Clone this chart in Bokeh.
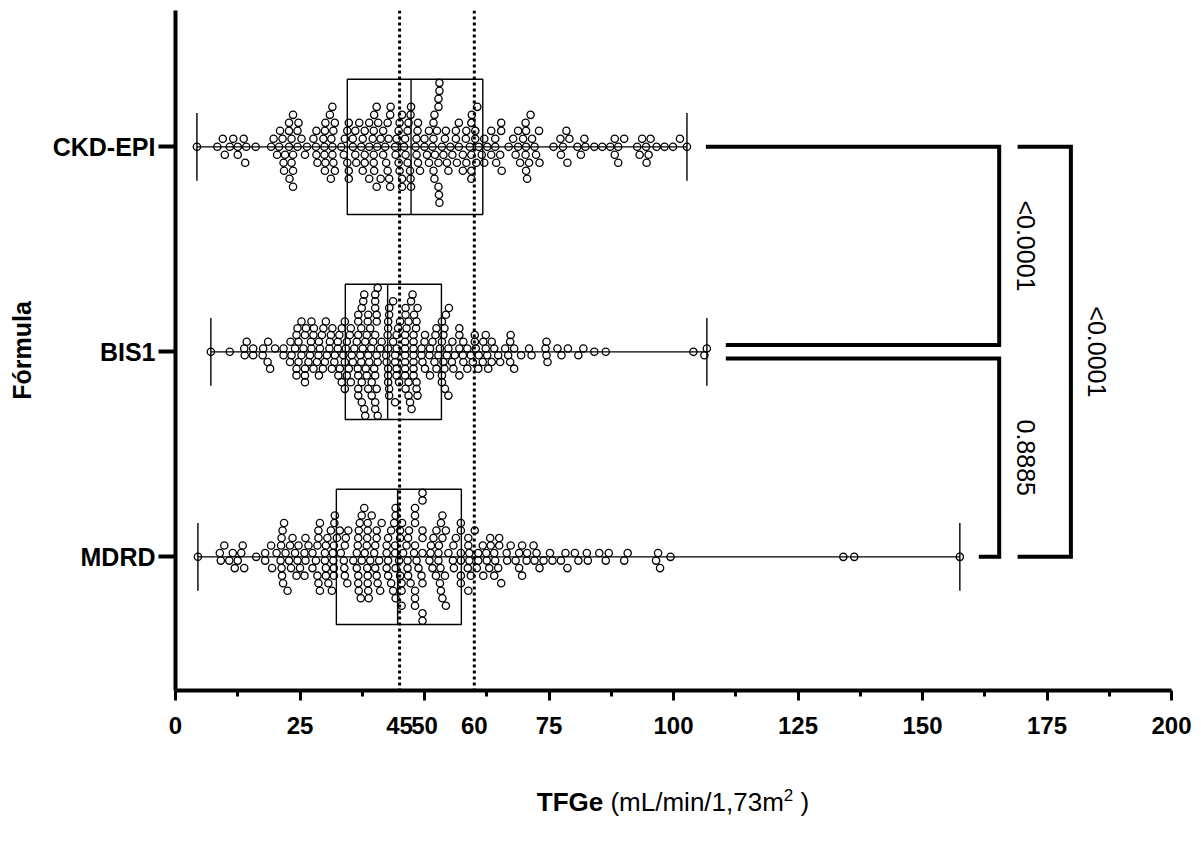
import numpy as np
from bokeh.plotting import figure
from bokeh.models import Range1d, FixedTicker, Span, LinearAxis, Div
from bokeh.layouts import column
from bokeh.embed import file_html
from bokeh.resources import INLINE
from bokeh.core.properties import value

# ---------------- data ----------------
formulas = ["CKD-EPI", "BIS1", "MDRD"]

ckd_epi = [
    52.0, 40.7, 52.8,
    23.3, 24.5, 38.9, 40.4, 45.5, 47.3, 52.0, 53.5,
    22.8, 31.2, 39.9, 43.2, 44.8, 47.3, 53.0, 59.4, 70.4,
    21.7, 23.6, 30.0, 31.3, 34.5, 36.1, 37.6, 41.7, 43.1, 45.0, 46.6, 48.2, 50.0, 51.6, 52.8, 58.4, 60.2, 62.0, 65.4, 70.4,
    13.7, 20.4, 22.0, 23.6, 25.3, 28.2, 29.9, 32.0, 34.5, 36.1, 37.6, 39.6, 41.2, 42.6, 45.5, 47.1, 48.7, 50.9, 53.0, 54.8,
    56.3, 59.4, 60.9, 62.6, 64.2, 65.4, 67.8, 69.2, 70.6, 72.4, 78.7, 94.6,
    9.5, 12.5, 14.0, 19.2, 22.8, 26.0, 27.7, 29.9, 31.5, 33.3, 34.8, 36.3, 38.0, 39.8, 41.7, 43.1, 44.8, 46.8, 48.6, 51.8,
    55.2, 56.9, 58.3, 60.4, 63.4, 68.8, 70.3, 71.6, 73.1, 77.3, 81.4, 88.2, 90.1, 93.7,
    4.3, 8.4, 10.9, 12.5, 16.1, 21.0, 22.9, 26.4, 28.3, 30.1, 31.7, 34.8, 36.9, 42.8, 44.4, 45.9, 48.7, 50.5, 53.0, 56.9,
    58.4, 59.5, 61.5, 63.4, 65.2, 66.9, 70.3, 75.9, 77.4, 79.1, 80.7, 82.3, 84.1, 85.7, 87.3, 88.9, 92.7, 95.4, 98.2, 99.9,
    101.3, 102.7,
    9.9, 11.6, 19.7, 21.5, 23.6, 28.3, 29.7, 31.5, 33.8, 35.6, 38.0, 42.3, 44.1, 46.1, 49.1, 50.9, 52.5, 54.5, 56.3, 57.7,
    59.4, 64.2, 65.5, 68.8, 70.4, 72.1, 77.8, 82.1, 88.2, 93.2, 95.0,
    14.2, 20.8, 22.8, 24.5, 28.5, 30.0, 31.5, 34.0, 35.6, 37.3, 38.9, 40.5, 42.1, 45.0, 47.2, 50.0, 51.8, 55.6, 57.7, 60.2,
    62.0, 64.4, 68.3, 69.8, 71.3, 73.0, 78.5, 88.9, 94.5, 96.6,
    21.8, 23.6, 30.1, 31.7, 34.8, 38.0, 39.8, 41.2, 42.6, 44.2, 46.2, 48.4, 51.8, 56.5, 59.4,
    31.0, 39.8, 42.9, 46.6, 48.4, 52.1, 53.8, 59.1, 60.6, 71.0,
    23.3, 24.7, 32.0, 38.9, 40.4, 45.5, 47.2, 52.8, 54.1,
    39.9, 52.8, 54.3, 52.9,
]

bis1 = [
    40.4, 37.9, 40.6, 48.4, 37.3, 39.9, 47.1,
    36.6, 38.4, 39.7, 42.9, 46.8, 48.4,
    37.4, 39.3, 41.4, 43.7, 46.1, 47.8, 49.4, 53.8,
    25.3, 34.0, 36.7, 39.1, 40.6, 42.9, 44.7, 46.4, 48.6, 54.1, 55.6,
    24.7, 26.0, 27.7, 29.7, 31.4, 32.9, 34.4, 35.4, 37.6, 39.4, 41.1, 42.7, 44.4, 46.1, 47.9, 52.8, 54.5,
    24.5, 26.2, 27.8, 29.6, 31.2, 33.0, 34.2, 36.7, 38.2, 40.1, 42.7, 44.1, 46.1, 47.4, 51.1, 52.4, 53.8,
    14.3, 18.6, 24.0, 25.7, 27.3, 29.0, 30.9, 32.6, 34.0, 35.2, 37.3, 38.7, 40.6, 42.7, 44.4, 46.1, 47.8, 50.1, 51.6, 53.1, 54.3,
    13.8, 15.6, 17.5, 19.0, 21.7, 23.0, 24.3, 26.0, 27.3, 28.8, 30.2, 31.9, 33.4, 34.8, 36.7, 38.1, 39.4, 42.3, 43.7, 45.1,
    46.2, 47.8, 49.6, 51.0, 52.4, 54.0, 55.5,
    7.1, 10.9,
    17.6, 20.0, 21.7, 23.3, 24.7, 26.0, 27.2, 28.7, 30.4, 32.0, 33.7, 35.2, 36.4, 37.7, 40.1, 42.4, 44.1, 46.1, 47.8, 49.4,
    51.1, 53.5, 54.8,
    13.9, 15.6, 18.5, 23.1, 25.3, 27.0, 28.4, 30.0, 31.5, 33.4, 35.0, 36.7, 38.6, 40.1, 42.7, 44.4, 46.2, 47.6, 50.0, 52.2,
    53.5, 55.8,
    26.0, 27.7, 29.4, 31.0, 32.6, 34.4, 35.9, 37.4, 40.1, 42.6, 44.1, 46.1, 47.8, 50.1, 52.0, 54.0,
    24.3, 26.7, 28.8, 32.7, 34.0, 35.6, 38.1, 40.1, 42.7, 44.9, 46.2, 47.8, 53.5, 54.8,
    24.3, 36.7, 38.4, 40.1, 42.7, 44.4, 46.1, 47.8,
    37.1, 38.7, 40.1, 42.9, 46.8, 48.6, 53.5, 54.9,
    36.7, 38.7, 42.9, 47.3,
    37.4, 38.9, 40.4, 46.8, 48.4,
    37.9, 40.4, 48.3, 40.4,
    57.8, 57.0, 58.6, 57.8, 59.3, 57.0, 59.7, 57.0, 58.6, 56.1, 57.0, 57.7,
    60.3, 60.9, 60.1, 61.7, 60.8, 62.3, 60.1, 61.8, 62.3, 62.6, 62.8, 64.0, 63.5, 63.5, 64.8, 65.2, 66.2, 66.8, 67.2, 68.0,
    67.2, 67.3, 68.0,
    69.4, 71.0, 71.5, 74.5, 74.5, 74.7, 74.3, 76.7, 77.5, 78.8, 80.9, 81.9, 84.1, 86.4,
    104.0, 106.2, 106.7,
]

mdrd = [
    37.2, 38.6, 53.3,
    21.6, 28.5, 31.7, 33.2, 37.4, 38.8, 40.4, 45.1, 48.1, 49.6, 51.0, 53.3,
    22.1, 28.7, 31.6, 34.7, 36.8, 38.6, 40.1, 42.7, 44.2, 45.5, 48.1, 49.4, 52.3, 57.3, 59.0,
    21.1, 22.5, 24.0, 26.1, 30.0, 31.8, 33.9, 36.8, 38.5, 40.1, 43.7, 45.1, 46.7, 48.1, 49.6, 51.8, 53.2, 54.8, 57.3, 59.0,
    60.5, 61.8, 64.0, 65.4, 69.6,
    9.8, 13.8, 19.4, 21.2, 22.8, 24.5, 25.9, 27.5, 29.0, 30.5, 31.9, 33.8, 36.4, 38.7, 40.4, 42.7, 44.2, 45.4, 46.9, 48.4,
    49.6, 53.6, 56.3, 58.7, 60.8, 62.4, 64.0, 68.3, 71.9, 73.9, 78.7, 96.9,
    8.9, 11.9, 13.5, 18.0, 21.3, 23.0, 24.7, 26.1, 28.5, 30.2, 32.0, 36.7, 38.6, 40.6, 42.4, 43.9, 45.4, 46.6, 47.9, 49.6,
    52.9, 54.3, 55.8, 57.3, 58.8, 63.2, 65.0, 67.3, 69.0, 73.1, 75.2, 77.4, 80.2, 82.8, 85.1, 87.0, 90.8,
    4.5, 16.2, 99.4, 134.1, 136.3, 157.5,
    9.1, 10.8, 12.5, 18.0, 21.4, 23.5, 25.0, 26.7, 28.2, 31.2, 34.0, 36.7, 38.4, 39.9, 41.4, 43.3, 44.9, 46.6, 48.1, 49.6,
    51.2, 52.8, 57.3, 60.1, 63.0, 64.8, 66.6, 69.0, 70.5, 72.1, 75.7, 78.3, 80.9, 82.6, 86.4, 90.1, 96.5,
    11.5, 13.2, 19.2, 21.3, 23.2, 25.9, 27.5, 29.0, 30.7, 32.4, 34.2, 35.7, 37.4, 39.1, 42.4, 44.2, 45.4, 46.7, 48.1, 49.6,
    52.8, 54.3, 55.9, 58.8, 61.7, 63.3, 65.0, 70.6, 72.5, 97.3,
    20.3, 24.3, 28.7, 30.2, 31.8, 34.5, 36.7, 38.5, 40.4, 43.3, 45.1, 46.4, 48.1, 49.6, 52.4, 54.1, 55.7, 57.3, 59.3, 60.8,
    62.5, 64.2, 66.5, 69.6,
    21.8, 28.7, 30.2, 31.8, 34.0, 36.4, 37.9, 39.4, 40.9, 42.4, 44.1, 45.7, 47.2, 48.8, 51.6, 53.1, 57.3, 58.8,
    21.5, 30.0, 31.4, 33.0, 37.0, 38.6, 41.1, 42.7, 44.1, 48.1, 49.6, 51.3, 53.6,
    36.6, 38.0, 44.2, 53.6,
]

# box plot statistics (CKD-EPI, BIS1, MDRD)
box_q1 = [34.5, 34.1, 32.3]
box_median = [47.3, 42.6, 44.6]
box_q3 = [61.7, 53.4, 57.4]
whisker_low = [4.3, 7.1, 4.5]
whisker_high = [102.7, 106.7, 157.5]

ref_lines = [45, 60]
x_major_ticks = [0, 25, 50, 75, 100, 125, 150, 175, 200]
x_minor_ticks = [12.5, 37.5, 62.5, 87.5, 112.5, 137.5, 162.5, 187.5]
extra_x_labels = [45, 60]

comparisons = [("CKD-EPI", "BIS1"), ("BIS1", "MDRD"), ("CKD-EPI", "MDRD")]
p_values = ["<0.0001", "0.8885", "<0.0001"]

# ---------------- layout constants ----------------
W, H = 1195, 760
LEFT, RIGHT, TOP, BOTTOM = 175, 24, 10, 70
FRAME_W = W - LEFT - RIGHT
PX_PER_X = FRAME_W / 200.0
Y_LO, Y_HI = -0.652, 2.665
PX_PER_Y = (H - TOP - BOTTOM) / (Y_HI - Y_LO)
FONT = "Liberation Sans"
BOX_HALF = 0.33
CAP_HALF = 0.165
SWARM_HALF = 0.312
TICK_FONT = "24px"
CAT_FONT = "25px"


def swarm(vals, mode, min_sep_px=7.6):
    thr = min_sep_px / PX_PER_X
    v = np.sort(np.asarray(vals, float))
    n = len(v)
    rows = np.zeros(n)
    placed = {}
    toggle = 1
    for i, x in enumerate(v):
        isolated = (i == 0 or x - v[i - 1] >= thr) and (i == n - 1 or v[i + 1] - x >= thr)
        if mode == "half" and isolated:
            r = 0.0
        else:
            mags = list(range(0, 60)) if mode == "int" else [k + 0.5 for k in range(60)]
            r = None
            for m in mags:
                cands = [0.0] if m == 0 else [toggle * m, -toggle * m]
                for c in cands:
                    if all(abs(x - px) >= thr for px in placed.get(c, [])):
                        r = c
                        break
                if r is not None:
                    break
            if r != 0:
                toggle = -toggle
        rows[i] = r
        placed.setdefault(r, []).append(x)
    return v, rows


p = figure(width=W, height=H, x_range=Range1d(0, 200), y_range=Range1d(Y_LO, Y_HI),
           min_border_left=LEFT, min_border_right=RIGHT, min_border_top=TOP, min_border_bottom=BOTTOM,
           toolbar_location=None, output_backend="svg", outline_line_color=None)
p.xgrid.visible = False
p.ygrid.visible = False

ypos = {name: len(formulas) - 1 - i for i, name in enumerate(formulas)}
series = {"CKD-EPI": (ckd_epi, "int"), "BIS1": (bis1, "half"), "MDRD": (mdrd, "half")}

for loc in ref_lines:
    p.add_layout(Span(location=loc, dimension="height", line_color="black",
                      line_width=3, line_dash="3 3"))

for i, name in enumerate(formulas):
    y = ypos[name]
    vals, mode = series[name]
    xs, rows = swarm(vals, mode)
    spacing = SWARM_HALF / max(np.abs(rows).max(), 1)
    spacing = min(spacing, 12.0 / PX_PER_Y)
    ys = y + rows * spacing
    p.quad(left=[box_q1[i]], right=[box_q3[i]], bottom=[y - BOX_HALF], top=[y + BOX_HALF],
           fill_color=None, line_color="black", line_width=1.4)
    p.segment(x0=[box_median[i]], x1=[box_median[i]], y0=[y - BOX_HALF], y1=[y + BOX_HALF],
              line_color="black", line_width=1.4)
    p.segment(x0=[whisker_low[i]], x1=[whisker_high[i]], y0=[y], y1=[y], line_color="black", line_width=1.4)
    p.segment(x0=[whisker_low[i], whisker_high[i]], x1=[whisker_low[i], whisker_high[i]],
              y0=[y - CAP_HALF] * 2, y1=[y + CAP_HALF] * 2, line_color="black", line_width=1.4)
    p.scatter(x=xs, y=ys, marker="circle", size=7.3, fill_color=None, line_color="black", line_width=1.3)

# significance brackets
GAP = 3.8
INNER_X, OUTER_X, OUTER_START = 165.4, 179.8, 169.1
SHARE_OFF = 0.033
bx, by, tx, ty = [], [], [], []
for (a, b), pv in zip(comparisons, p_values):
    ya, yb = ypos[a], ypos[b]
    ia, ib = formulas.index(a), formulas.index(b)
    if abs(ya - yb) == 1:
        xa0 = whisker_high[ia] + GAP
        xb0 = whisker_high[ib] + GAP
        ya_e = ya - SHARE_OFF if ya == 1 else ya
        yb_e = yb + SHARE_OFF if yb == 1 else yb
        bx.append([xa0, INNER_X, INNER_X, xb0])
        by.append([ya_e, ya_e, yb_e, yb_e])
        tx.append(INNER_X + 5.3)
        ty.append((ya_e + yb_e) / 2)
    else:
        bx.append([OUTER_START, OUTER_X, OUTER_X, OUTER_START])
        by.append([ya, ya, yb, yb])
        tx.append(OUTER_X + 5.3)
        ty.append((ya + yb) / 2)
p.multi_line(xs=bx, ys=by, line_color="black", line_width=4, line_join="miter")
p.text(x=tx, y=ty, text=p_values, angle=-np.pi / 2, text_align="center", text_baseline="middle",
       text_font=value(FONT), text_font_size="25px", text_color="black")

# x axis: the first axis draws the line and tick marks only
xa = p.xaxis[0]
xa.ticker = FixedTicker(ticks=x_major_ticks, minor_ticks=x_minor_ticks)
xa.axis_line_width = 4
xa.major_tick_line_width = 3
xa.minor_tick_line_width = 3
xa.major_tick_out = 10
xa.major_tick_in = 0
xa.minor_tick_out = 6
xa.minor_tick_in = 0
xa.major_label_standoff = 0
xa.major_label_overrides = {t: "" for t in x_major_ticks}
xa.major_label_text_font_size = "1px"

# second axis just below carries all the tick labels (incl. 45 and 60, which have no tick mark)
xa2 = LinearAxis(ticker=FixedTicker(ticks=sorted(x_major_ticks + extra_x_labels)),
                 axis_line_alpha=0, major_tick_line_alpha=0, minor_tick_line_alpha=0,
                 major_tick_out=0, major_tick_in=0, minor_tick_out=0, minor_tick_in=0,
                 major_label_standoff=16,
                 major_label_text_font=FONT, major_label_text_font_style="bold",
                 major_label_text_font_size=TICK_FONT, major_label_text_color="black")
p.add_layout(xa2, "below")

# y axis
ya_ax = p.yaxis[0]
ya_ax.ticker = FixedTicker(ticks=[ypos[n] for n in formulas])
ya_ax.major_label_overrides = {ypos[n]: n for n in formulas}
ya_ax.axis_line_width = 4
ya_ax.major_tick_line_width = 4
ya_ax.major_tick_out = 17
ya_ax.major_tick_in = 0
ya_ax.minor_tick_line_color = None
ya_ax.major_label_standoff = 3
ya_ax.major_label_text_font = FONT
ya_ax.major_label_text_font_style = "bold"
ya_ax.major_label_text_font_size = CAT_FONT
ya_ax.major_label_text_color = "black"
ya_ax.axis_label = "Fórmula"
ya_ax.axis_label_text_font = FONT
ya_ax.axis_label_text_font_style = "bold"
ya_ax.axis_label_text_font_size = CAT_FONT
ya_ax.axis_label_text_color = "black"
ya_ax.axis_label_standoff = 14

title = Div(
    text='<span style="font-weight:bold">TFGe</span> (mL/min/1,73m<sup style="font-size:17px">2</sup> )',
    width=FRAME_W, height=40, margin=(22, 0, 0, LEFT),
    styles={"font-family": FONT, "font-size": "26px", "text-align": "center", "color": "black",
            "line-height": "28px", "white-space": "nowrap"})

layout = column(p, title, spacing=0)
open("out.html", "w").write(file_html(layout, INLINE))
